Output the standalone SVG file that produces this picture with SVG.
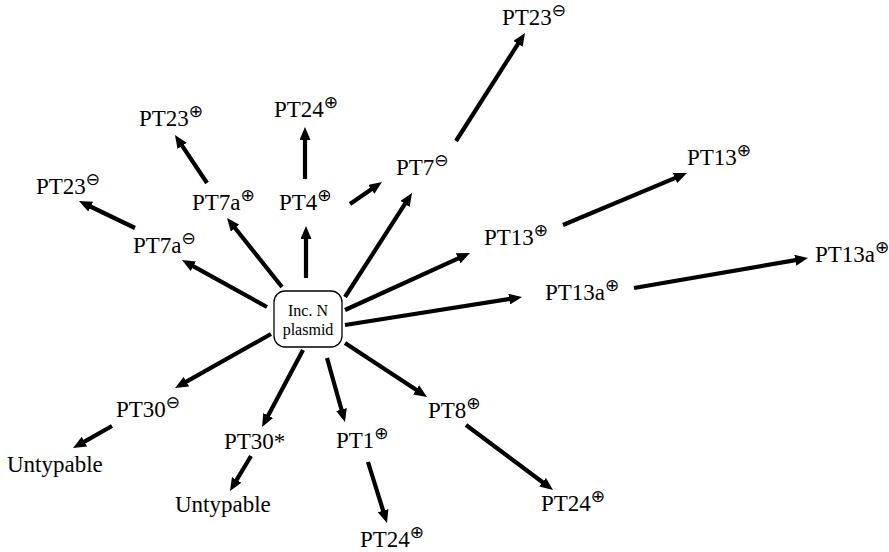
<svg xmlns="http://www.w3.org/2000/svg" width="889" height="552" viewBox="0 0 889 552">
<style>
.lbl{font-family:"Liberation Serif","Times New Roman",serif;font-size:23px;fill:#000}
.sup{font-family:"DejaVu Sans",sans-serif;font-size:17px}
.ctr{font-family:"Liberation Serif","Times New Roman",serif;font-size:16px;fill:#000;text-anchor:middle}
.arr{stroke:#000;stroke-width:4.2;fill:none;marker-end:url(#ah)}
</style>
<defs>
<marker id="ah" markerUnits="userSpaceOnUse" markerWidth="14" markerHeight="11" refX="5" refY="5.5" orient="auto">
<path d="M0,0 L13,5.5 L0,11 z" fill="#000"/>
</marker>
</defs>
<rect width="889" height="552" fill="#fff"/>
<g id="connectors">
<line class="arr" x1="267" y1="307" x2="189" y2="263.9"/>
<line class="arr" x1="282" y1="287" x2="232" y2="224.3"/>
<line class="arr" x1="306" y1="278" x2="306" y2="234"/>
<line class="arr" x1="345" y1="297" x2="407.7" y2="199.7"/>
<line class="arr" x1="345" y1="310" x2="462.7" y2="256.3"/>
<line class="arr" x1="345" y1="325" x2="514.1" y2="298.3"/>
<line class="arr" x1="345" y1="343" x2="420.3" y2="392.6"/>
<line class="arr" x1="327" y1="358" x2="342.8" y2="414.3"/>
<line class="arr" x1="303" y1="350" x2="265.8" y2="419.9"/>
<line class="arr" x1="271" y1="334" x2="182" y2="384.1"/>
<line class="arr" x1="135" y1="228" x2="86.2" y2="204.5"/>
<line class="arr" x1="207" y1="183" x2="179.4" y2="141.7"/>
<line class="arr" x1="305" y1="179" x2="305" y2="135"/>
<line class="arr" x1="350" y1="204" x2="375.4" y2="186.5"/>
<line class="arr" x1="456" y1="141" x2="520.7" y2="39.7"/>
<line class="arr" x1="563" y1="225" x2="679.6" y2="176.1"/>
<line class="arr" x1="634" y1="288" x2="800.1" y2="259.4"/>
<line class="arr" x1="112" y1="426" x2="80" y2="444.1"/>
<line class="arr" x1="251" y1="456" x2="234.1" y2="484.1"/>
<line class="arr" x1="368" y1="462" x2="384.6" y2="515.4"/>
<line class="arr" x1="466" y1="425" x2="546.6" y2="485.2"/>
</g>
<g id="center">
<rect x="274" y="291" width="68" height="56" rx="11" fill="#fff" stroke="#000" stroke-width="1.3"/>
<text class="ctr" x="308" y="316">Inc. N</text>
<text class="ctr" x="308" y="335">plasmid</text>
</g>
<g id="n-pt23m-top"><text class="lbl" x="502" y="25">PT23<tspan class="sup" dy="-9">⊖</tspan></text></g>
<g id="n-pt24p-top"><text class="lbl" x="274" y="117">PT24<tspan class="sup" dy="-9">⊕</tspan></text></g>
<g id="n-pt23p"><text class="lbl" x="139" y="126">PT23<tspan class="sup" dy="-9">⊕</tspan></text></g>
<g id="n-pt23m-left"><text class="lbl" x="36" y="194">PT23<tspan class="sup" dy="-9">⊖</tspan></text></g>
<g id="n-pt7ap"><text class="lbl" x="192" y="210">PT7a<tspan class="sup" dy="-9">⊕</tspan></text></g>
<g id="n-pt4p"><text class="lbl" x="279" y="210">PT4<tspan class="sup" dy="-9">⊕</tspan></text></g>
<g id="n-pt7m"><text class="lbl" x="396" y="175">PT7<tspan class="sup" dy="-9">⊖</tspan></text></g>
<g id="n-pt13p-right"><text class="lbl" x="687" y="165">PT13<tspan class="sup" dy="-9">⊕</tspan></text></g>
<g id="n-pt13p-mid"><text class="lbl" x="484" y="245">PT13<tspan class="sup" dy="-9">⊕</tspan></text></g>
<g id="n-pt7am"><text class="lbl" x="133" y="253">PT7a<tspan class="sup" dy="-9">⊖</tspan></text></g>
<g id="n-pt13ap-right"><text class="lbl" x="815" y="262">PT13a<tspan class="sup" dy="-9">⊕</tspan></text></g>
<g id="n-pt13ap-mid"><text class="lbl" x="545" y="300">PT13a<tspan class="sup" dy="-9">⊕</tspan></text></g>
<g id="n-pt30m"><text class="lbl" x="116" y="417">PT30<tspan class="sup" dy="-9">⊖</tspan></text></g>
<g id="n-untyp-left"><text class="lbl" x="7" y="472">Untypable</text></g>
<g id="n-pt30s"><text class="lbl" x="224" y="449">PT30*</text></g>
<g id="n-untyp-bottom"><text class="lbl" x="175" y="512">Untypable</text></g>
<g id="n-pt1p"><text class="lbl" x="336" y="448">PT1<tspan class="sup" dy="-9">⊕</tspan></text></g>
<g id="n-pt8p"><text class="lbl" x="428" y="418">PT8<tspan class="sup" dy="-9">⊕</tspan></text></g>
<g id="n-pt24p-right"><text class="lbl" x="541" y="511">PT24<tspan class="sup" dy="-9">⊕</tspan></text></g>
<g id="n-pt24p-bottom"><text class="lbl" x="360" y="547">PT24<tspan class="sup" dy="-9">⊕</tspan></text></g>
</svg>
